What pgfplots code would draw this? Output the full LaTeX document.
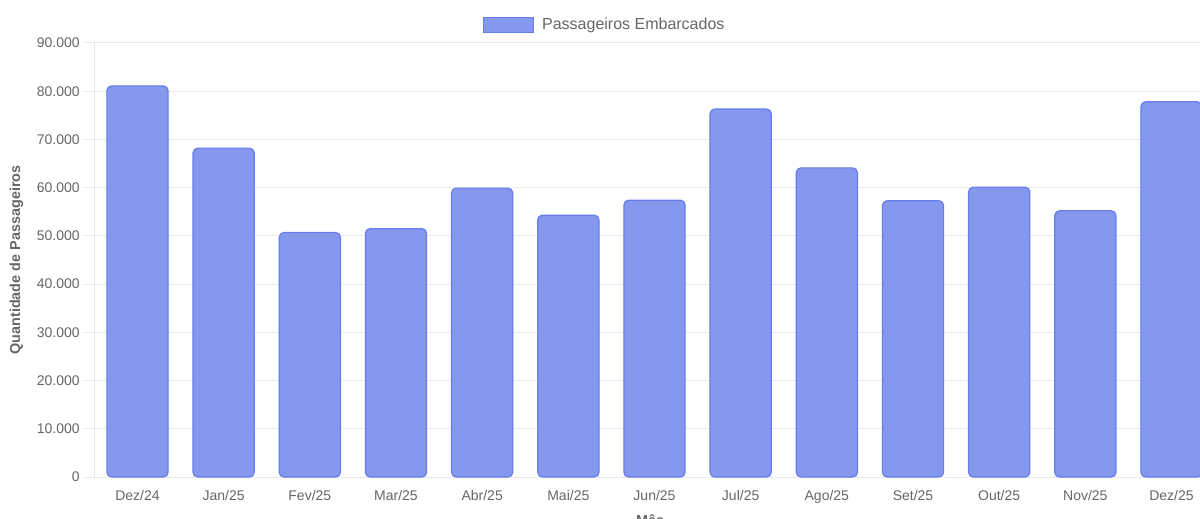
\documentclass[border=0pt]{standalone}
\usepackage{pgfplots}
\pgfplotsset{compat=1.18}
\usepackage{fontspec}
\setmainfont{Liberation Sans}
\definecolor{barfill}{RGB}{133,152,238}
\definecolor{barline}{RGB}{102,126,234}
\definecolor{gridc}{RGB}{232,232,232}
\definecolor{txt}{RGB}{102,102,102}
\begin{document}
\begin{tikzpicture}
\begin{axis}[
  at={(70.8pt,30.75pt)}, anchor=south west,
  scale only axis,
  width=840.15pt, height=325.5pt,
  xmin=-0.5, xmax=12.5,
  ymin=0, ymax=90000,
  scaled y ticks=false,
  ybar, bar width=0.71,
  xtick={0,...,12},
  xticklabels={Dez/24,Jan/25,Fev/25,Mar/25,Abr/25,Mai/25,Jun/25,Jul/25,Ago/25,Set/25,Out/25,Nov/25,Dez/25},
  ytick={0,10000,...,90000},
  yticklabels={0,10.000,20.000,30.000,40.000,50.000,60.000,70.000,80.000,90.000},
  ymajorgrids, major grid style={gridc, line width=0.75pt},
  axis x line*=bottom, axis y line*=left,
  axis line style={gridc, line width=0.75pt, -},
  x tick style={draw=none},
  y tick style={gridc, line width=0.75pt},
  tick align=outside, major tick length=7.5pt,
  ticklabel style={font=\fontsize{10.5pt}{12pt}\selectfont, text=txt},
  xticklabel style={yshift=1pt},
  ylabel={Quantidade de Passageiros},
  ylabel style={at={(axis description cs:-0.0695,0.5)}, anchor=center, font=\bfseries\fontsize{10.8pt}{12pt}\selectfont, text=txt},
  xlabel={Mês},
  xlabel style={at={(axis description cs:0.496,-0.1)}, anchor=center, font=\bfseries\fontsize{10.8pt}{12pt}\selectfont, text=txt},
  legend style={at={(0.4558,1.0415)}, anchor=center, draw=none, fill=none, font=\fontsize{12pt}{14pt}\selectfont, text=txt},
  legend image code/.code={\draw[sharp corners, fill=barfill, draw=barline, line width=1pt] (0pt,-5.6pt) rectangle (37.5pt,5.6pt); \path[draw=none, fill=none] (0pt,0pt) -- (42pt,0pt);},
]
\addplot[fill=barfill, draw=barline, line width=0.9pt, rounded corners=3.5pt] coordinates {
 (0,81100) (1,68200) (2,50700) (3,51500) (4,59900) (5,54300) (6,57400)
 (7,76300) (8,64100) (9,57300) (10,60100) (11,55200) (12,77800)};
\addlegendentry{Passageiros Embarcados}
\end{axis}
\pgfresetboundingbox
\useasboundingbox (0,0) rectangle (900pt,388.5pt);
\end{tikzpicture}
\end{document}
